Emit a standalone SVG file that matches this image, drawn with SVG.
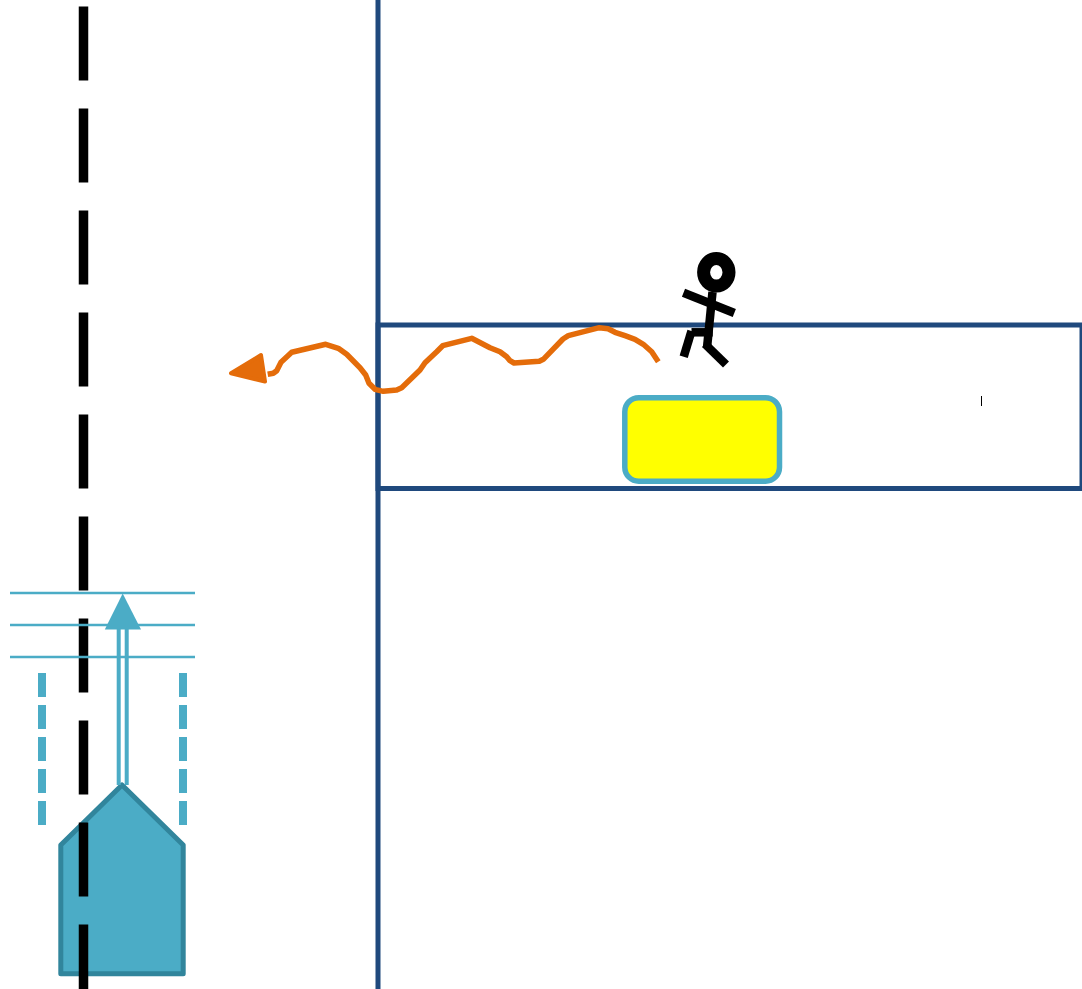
<svg xmlns="http://www.w3.org/2000/svg" width="1082" height="989" viewBox="0 0 1082 989">
<style>
.road{fill:none;stroke:#1f497d;stroke-width:5}
.cyan{fill:none;stroke:#4bacc6}
.limb{fill:none;stroke:#000;stroke-width:8.500}
</style>
<rect width="1082" height="989" fill="#fff"/>
<g id="roads">
<line class="road" x1="378" y1="0" x2="378" y2="989"/>
<rect class="road" x="378" y="325" width="704" height="163.500"/>
</g>
<g id="vehicle">
<path d="M122 785L60.800 845V973.700H183.200V845Z" fill="#4bacc6" stroke="#31859c" stroke-width="5" stroke-linejoin="round"/>
</g>
<g id="centre-line">
<line x1="83.500" y1="6.500" x2="83.500" y2="989" stroke="#000" stroke-width="9.500" stroke-dasharray="74 28"/>
</g>
<g id="sensor-range">
<line class="cyan" stroke-width="2.500" x1="10" y1="593" x2="195" y2="593"/>
<line class="cyan" stroke-width="2.500" x1="10" y1="625" x2="195" y2="625"/>
<line class="cyan" stroke-width="2.500" x1="10" y1="657" x2="195" y2="657"/>
<line class="cyan" stroke-width="8" stroke-dasharray="24 8" x1="42" y1="673" x2="42" y2="825"/>
<line class="cyan" stroke-width="8" stroke-dasharray="24 8" x1="183" y1="673" x2="183" y2="825"/>
</g>
<g id="connectors">
<path class="cyan" stroke-width="4" d="M118.700 629V785M126.700 629V785"/>
<path d="M122.700 593.500L104.800 629.500H141Z" fill="#4bacc6"/>
<path d="M658.300 361.700L651.700 351.700L643.300 344.300L635 339.300L625 335.700L615 332.300L608 328.700L599.300 327.700L568.300 335.700L563 339L543.300 359.300L539.300 361.300L514 363L510 360.700L506.700 356.700L500 351.700L490 347.700L471.700 338.300L442.700 345.700L436.700 351.700L425 362.700L420 370L401.700 387.700L396.700 390L383.300 391.300L375 389.300L369 383.300L365.700 375L360 367.700L346.700 354.300L338.300 348.300L325.700 344.300L291.700 352.300L281 362.300L276.700 370.700L273.300 373.300L267.700 374.300" fill="none" stroke="#e46c0a" stroke-width="5.500" stroke-linejoin="round"/>
<path d="M231 373.300L261 355L265 381.500Z" fill="#e46c0a" stroke="#e46c0a" stroke-width="4" stroke-linejoin="round"/>
</g>
<g id="obstacle">
<rect x="624.800" y="397.700" width="154.700" height="83.500" rx="14" fill="#ff0" stroke="#4bacc6" stroke-width="5.500"/>
</g>
<g id="pedestrian">
<ellipse cx="716.300" cy="272.300" rx="12.700" ry="13.800" fill="none" stroke="#000" stroke-width="13"/>
<path class="limb" d="M712.500 292L707 348"/>
<path class="limb" d="M683.500 292.700L734.300 313"/>
<path class="limb" d="M705 344L726 364.500"/>
<path class="limb" d="M712.700 332.300H691.500"/>
<path class="limb" d="M691.500 331L683.700 356.700"/>
</g>
<g id="cursor-mark">
<line x1="981.500" y1="396" x2="981.500" y2="406" stroke="#000" stroke-width="1"/>
</g>
</svg>
